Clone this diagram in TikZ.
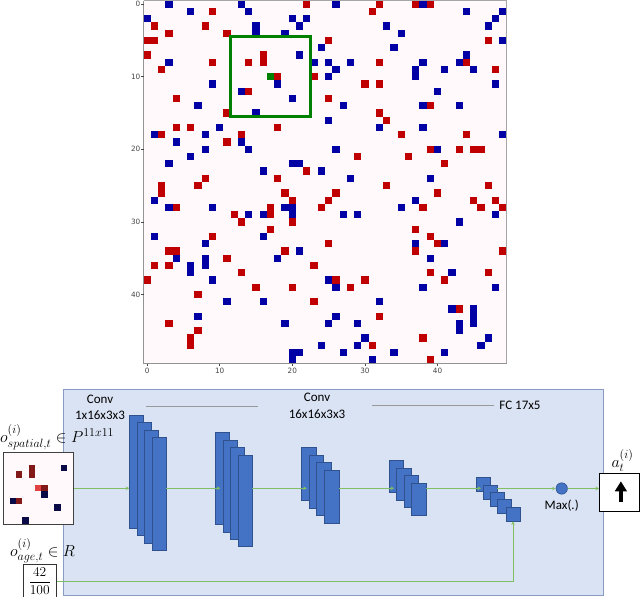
\RequirePackage{fix-cm}
\documentclass[tikz,border=0pt]{standalone}
\usepackage{fontspec}
\usepackage{amsmath}
\newfontfamily\calib{Carlito}
\newfontfamily\djv{DejaVu Sans}
\usetikzlibrary{arrows.meta,calc}
\definecolor{cred}{RGB}{192,0,0}
\definecolor{cblue}{RGB}{0,0,165}
\definecolor{cgreen}{RGB}{0,128,0}
\definecolor{plotbg}{RGB}{255,249,251}
\definecolor{ired}{RGB}{130,25,25}
\definecolor{iblue}{RGB}{10,10,70}
\definecolor{iagent}{RGB}{225,65,65}
\definecolor{panelfill}{RGB}{218,227,243}
\definecolor{paneldraw}{RGB}{135,155,195}
\definecolor{fmfill}{RGB}{68,114,196}
\definecolor{fmdraw}{RGB}{47,82,143}
\definecolor{conncol}{RGB}{130,190,100}
\definecolor{tickcol}{RGB}{70,70,70}
\DeclareMathSizes{16}{16}{12}{9}
\DeclareMathSizes{13.5}{13.5}{10}{7.5}
\tikzset{
  fm/.style={draw=fmdraw, fill=fmfill, line width=0.6pt, inner sep=0pt, outer sep=0pt, anchor=north west},
  lbl/.style={font=\calib\fontsize{13}{15}\selectfont, inner sep=0pt},
  conn/.style={draw=conncol, line width=0.8pt, -{Stealth[length=3.5pt,width=3.5pt]}},
  gline/.style={draw=gray!80, line width=0.7pt},
  ticklbl/.style={font=\djv\fontsize{7.3}{8}\selectfont, text=tickcol, inner sep=0pt},
  mathlbl/.style={font=\fontsize{16}{19}\selectfont, inner sep=0pt}
}
\newcommand\gcell[3]{\fill[#1] ({143.5+#2*7.26},{0.5+#3*7.26}) rectangle +(7.26,7.26);}
\newcommand\icell[3]{\fill[#1] ({3.3+#2*6.36},{451.7+#3*6.57}) rectangle +(6.36,6.57);}
\begin{document}
\begin{tikzpicture}[x=1pt,y=-1pt]
\useasboundingbox (0,0) rectangle (640,597);
% ---------------- plot ----------------
\fill[plotbg] (143.5,0.5) rectangle (506.5,363.5);
\foreach \c/\r in {22/0,9/1,1/3,8/3,3/4,11/4,0/5,1/5,25/5,0/7,16/7,16/8,9/8,14/8,2/9,18/10,23/10,14/12,4/13,25/13,11/15,4/17,6/17,18/17,2/18,13/18,11/19,22/23,8/24,18/24,2/25,7/25,
32/0,37/0,39/0,31/1,47/5,32/8,44/8,48/9,30/11,32/11,39/14,32/15,33/16,35/18,44/18,39/20,43/20,45/20,46/20,29/21,36/21,41/22,33/25,47/25,
2/26,19/26,20/27,25/27,4/28,17/28,17/29,24/28,12/29,13/30,20/30,17/31,9/32,25/33,3/34,4/34,19/34,11/35,1/36,3/36,23/36,13/37,0/38,15/39,20/39,7/40,23/41,3/44,7/45,6/46,6/47,
26/26,40/26,45/27,48/27,38/28,46/28,49/28,37/31,39/32,40/33,37/34,49/34,39/37,47/37,26/38,30/38,41/38,28/39,43/42,32/43,38/46,31/47,39/49}
  {\gcell{cred}{\c}{\r}}
\foreach \c/\r in {3/0,13/0,6/1,14/1,0/2,20/2,22/2,21/3,15/3,15/4,19/4,24/6,21/7,3/8,23/8,25/8,25/10,18/11,9/11,13/12,20/13,7/14,15/15,25/16,10/17,1/18,8/18,4/19,13/19,8/20,14/20,6/21,3/22,20/22,21/22,16/23,24/23,
26/0,38/0,44/1,49/1,48/2,33/3,47/3,35/4,49/5,34/6,44/7,28/8,38/8,43/8,26/9,37/9,37/10,41/9,45/9,48/11,40/12,27/14,38/14,43/14,32/17,38/17,49/18,26/20,40/20,28/24,39/24,
1/27,3/28,9/28,19/28,20/28,20/29,14/29,16/29,1/32,16/32,8/33,21/34,4/35,8/35,8/36,18/35,6/36,6/37,9/38,25/38,11/41,16/41,7/43,19/44,25/44,24/47,20/48,21/48,20/49,
37/27,35/28,27/29,29/29,48/29,43/30,37/33,41/33,39/35,42/37,26/39,38/39,48/39,32/41,42/42,45/42,45/43,45/44,26/43,29/44,43/44,43/45,30/46,47/46,29/47,46/47,27/48,34/48,41/48,31/49}
  {\gcell{cblue}{\c}{\r}}
\gcell{cgreen}{17}{10}
\draw[cgreen, line width=2.8pt] (230.5,36.8) rectangle (310.4,116.5);
\draw[gray!70, line width=0.6pt] (506.5,0.5) -- (143.5,0.5);
\draw[gray!70, line width=0.6pt] (506.5,0.5) -- (506.5,363.5);
\draw[gray!85, line width=0.9pt] (143.5,0.5) -- (143.5,363.5) -- (506.5,363.5);
\foreach \v in {0,10,20,30,40}{
  \draw[tickcol, line width=0.6pt] ({143.5+(\v+0.5)*7.26},363.5) -- +(0,2.5);
  \node[ticklbl, anchor=north] at ({143.5+(\v+0.5)*7.26},367.5) {\v};
  \draw[tickcol, line width=0.6pt] (143.5,{0.5+(\v+0.5)*7.26}) -- +(-2.5,0);
  \node[ticklbl, anchor=east] at (140.5,{0.5+(\v+0.5)*7.26}) {\v};
}
% ---------------- network panel ----------------
\node[draw=paneldraw, fill=panelfill, line width=0.8pt, minimum width=540pt, minimum height=206pt, anchor=north west, inner sep=0pt] (panel) at (63,389) {};
\node[lbl] (c1a) at (100,399) {Conv};
\node[lbl] (c1b) at (100,415) {1x16x3x3};
\node[lbl] (c2a) at (317,397) {Conv};
\node[lbl] (c2b) at (317,414) {16x16x3x3};
\node[lbl] (fc) at (520,405) {FC 17x5};
\coordinate (g1s) at (146,406);
\coordinate (g1e) at (258,406);
\coordinate (g2s) at (372,405);
\coordinate (g2e) at ($(fc.west)+(-5,0)$);
\draw[gline] (g1s) -- (g1e);
\draw[gline] (g2s) -- (g2e);
% stacks
\node[fm, minimum width=14.4pt, minimum height=113pt] (s1a) at (129.3,415) {};
\node[fm, minimum width=14.4pt, minimum height=113pt] (s1b) at (136.8,422.4) {};
\node[fm, minimum width=14.4pt, minimum height=113pt] (s1c) at (144.3,429.8) {};
\node[fm, minimum width=14.4pt, minimum height=113pt] (s1d) at (151.8,437.2) {};
\node[fm, minimum width=14.4pt, minimum height=91.7pt] (s2a) at (215.3,432.7) {};
\node[fm, minimum width=14.4pt, minimum height=91.7pt] (s2b) at (222.8,440.1) {};
\node[fm, minimum width=14.4pt, minimum height=91.7pt] (s2c) at (230.3,447.5) {};
\node[fm, minimum width=14.4pt, minimum height=91.7pt] (s2d) at (237.8,454.9) {};
\node[fm, minimum width=14.7pt, minimum height=52.8pt] (s3a) at (301.3,447.7) {};
\node[fm, minimum width=14.7pt, minimum height=52.8pt] (s3b) at (309,455.2) {};
\node[fm, minimum width=14.7pt, minimum height=52.8pt] (s3c) at (316.7,462.7) {};
\node[fm, minimum width=14.7pt, minimum height=52.8pt] (s3d) at (324.3,470.2) {};
\node[fm, minimum width=14.7pt, minimum height=31.8pt] (s4a) at (389,460.7) {};
\node[fm, minimum width=14.7pt, minimum height=31.8pt] (s4b) at (396.5,468.2) {};
\node[fm, minimum width=14.7pt, minimum height=31.8pt] (s4c) at (404,475.7) {};
\node[fm, minimum width=14.7pt, minimum height=31.8pt] (s4d) at (411.5,483.2) {};
\node[fm, minimum width=14pt, minimum height=14.4pt] (s5a) at (476,477.3) {};
\node[fm, minimum width=14pt, minimum height=14.4pt] (s5b) at (483,485) {};
\node[fm, minimum width=14pt, minimum height=14.4pt] (s5c) at (490,492.3) {};
\node[fm, minimum width=14pt, minimum height=14.4pt] (s5d) at (497.3,499.3) {};
\node[fm, minimum width=14pt, minimum height=14.4pt] (s5e) at (506,507) {};
\node[circle, draw=fmdraw, fill=fmfill, line width=0.6pt, minimum size=11.4pt, inner sep=0pt] (mx) at (561.7,488.5) {};
\node[lbl] (mxl) at (561.7,506) {Max(.)};
% output box
\node[draw=black, fill=white, line width=0.8pt, minimum width=40pt, minimum height=37.7pt, anchor=north west, inner sep=0pt] (out) at (599,473.3) {};
\draw[line width=3.3pt, -{Triangle[length=10pt,width=11.5pt]}] ($(out.center)+(1.5,9.5)$) -- ($(out.center)+(1.5,-11.3)$);
\node[mathlbl, anchor=base west] (outl) at (611.3,467) {$a_t^{(i)}$};
% spatial inset
\node[draw=black!75, fill=plotbg, line width=0.8pt, minimum width=70pt, minimum height=72.3pt, anchor=north west, inner sep=0pt] (inset) at (3.3,451.7) {};
\icell{iblue}{9}{2}
\icell{ired}{4}{2}
\icell{ired}{4}{3}
\icell{ired}{2}{3}
\icell{iagent}{5}{5}
\icell{ired}{6}{5}
\icell{iblue}{6}{6}
\icell{iblue}{1}{7}
\icell{ired}{2}{7}
\icell{iblue}{8}{8}
\icell{iblue}{3}{10}
\node[mathlbl, anchor=base west] (spl) at (0,442) {$o^{(i)}_{spatial,t}\in P^{11x11}$};
% age input
\node[mathlbl, anchor=base west] (agel) at (10,556) {$o^{(i)}_{age,t}\in R$};
\node[draw=black!80, fill=white, line width=0.8pt, minimum width=33.3pt, minimum height=32.5pt, anchor=north west, inner sep=0pt, font=\fontsize{13.5}{16}\selectfont] (agebox) at (22.7,564.3) {$\dfrac{42}{100}$};
% connectors
\draw[conn] (inset.east) -- (inset.east -| s1a.west);
\draw[conn] (s1d.east |- inset.east) -- ([xshift=5pt]s2a.west |- inset.east);
\draw[conn] (s2d.east |- inset.east) -- ([xshift=5.5pt]s3a.west |- inset.east);
\draw[conn] (s3d.east |- inset.east) -- ([xshift=5pt]s4a.west |- inset.east);
\draw[conn] (s4d.east |- inset.east) -- ([xshift=5pt]s5a.west |- inset.east);
\draw[conn] (s5b.east |- mx.west) -- (mx.west);
\draw[conn] (mx.east) -- (mx.east -| out.west);
\draw[conn] (agebox.east) -| (s5e.south);
\end{tikzpicture}
\end{document}
